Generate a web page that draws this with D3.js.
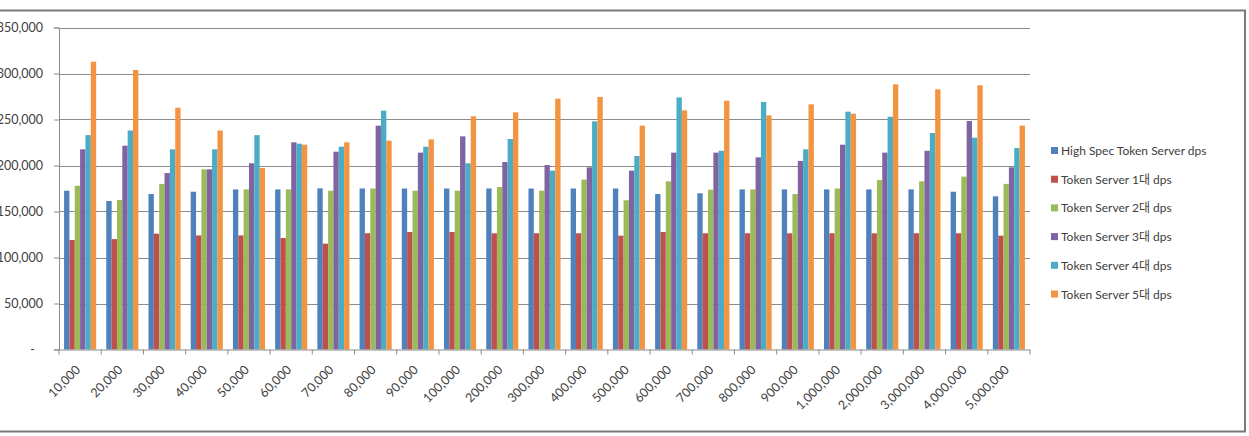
<!DOCTYPE html>
<html>
  <head>
    <meta charset="utf-8">
    <title>Token Server dps</title>
    <script src="https://d3js.org/d3.v7.min.js"></script>
    <style>
      body { margin: 0; background: #fff; }
      text { font-family: Lato, "Noto Sans CJK KR", sans-serif; }
    </style>
  </head>
  <body>
    <svg width="1249" height="436" id="mainsvg"></svg>
    <script>
      const categories = ['10,000', '20,000', '30,000', '40,000', '50,000', '60,000', '70,000', '80,000',
        '90,000', '100,000', '200,000', '300,000', '400,000', '500,000', '600,000', '700,000', '800,000',
        '900,000', '1,000,000', '2,000,000', '3,000,000', '4,000,000', '5,000,000'];

      const seriesNames = ['High Spec Token Server dps', 'Token Server 1대 dps', 'Token Server 2대 dps',
        'Token Server 3대 dps', 'Token Server 4대 dps', 'Token Server 5대 dps'];

      const highSpec = [172600, 161400, 169000, 171500, 174000, 174000, 175200, 175000, 175000, 175000, 175000, 175000,
        175000, 175000, 169000, 169800, 174000, 174000, 174000, 174000, 174000, 171500, 166500];
      const server1 = [119000, 120000, 125900, 124000, 124000, 121200, 115000, 126300, 127700, 127700, 126300, 126300,
        126300, 123700, 127700, 126300, 126300, 126300, 126300, 126300, 126300, 126300, 123700];
      const server2 = [178000, 162500, 180000, 195800, 174000, 174000, 172600, 175000, 172600, 172600, 176600, 172600,
        184600, 162200, 182800, 173700, 174000, 169000, 175000, 184200, 182800, 187900, 180000];
      const server3 = [217600, 221500, 191800, 195800, 202400, 225200, 215000, 243300, 214000, 231700, 203800, 200500,
        198000, 194400, 214000, 214000, 208900, 204900, 222600, 214000, 216000, 248400, 198000];
      const server4 = [233000, 238000, 217600, 217600, 233000, 223700, 220400, 259600, 220400, 202400, 228800, 194400,
        248000, 210300, 274000, 216000, 269000, 217600, 258500, 253000, 235300, 230200, 219000];
      const server5 = [312800, 303800, 262800, 238000, 197300, 222600, 225200, 227000, 228400, 253500, 257800, 272600,
        274500, 243300, 260000, 270400, 254500, 266500, 256300, 288200, 282800, 287200, 243300];

      const yTicks = [0, 50000, 100000, 150000, 200000, 250000, 300000, 350000];
      const colors = ['#4F81BD', '#C0504D', '#9BBB59', '#8064A2', '#4BACC6', '#F39443'];

      const allSeries = [highSpec, server1, server2, server3, server4, server5];

      const svg = d3.select('#mainsvg');

      // outer chart frame (left edge is cropped off in the original)
      svg.append('rect')
        .attr('x', -10).attr('y', 10.5)
        .attr('width', 1255).attr('height', 421)
        .attr('fill', '#fff').attr('stroke', '#7a7a7a').attr('stroke-width', 2);

      const plotLeft = 59, plotRight = 1030, plotTop = 27.5, plotBottom = 349.5;

      const xScale = d3.scaleBand()
        .domain(categories)
        .range([plotLeft, plotRight])
        .paddingInner(0.24).paddingOuter(0.12);

      const xOuter = d3.scaleBand().domain(categories).range([plotLeft, plotRight]);

      const xSub = d3.scaleBand()
        .domain(d3.range(allSeries.length))
        .range([0, xScale.bandwidth()]);

      const yScale = d3.scaleLinear()
        .domain([0, 350000])
        .range([plotBottom, plotTop]);

      // gridlines
      svg.append('g').selectAll('line').data(yTicks.slice(1)).join('line')
        .attr('x1', plotLeft).attr('x2', plotRight)
        .attr('y1', d => Math.round(yScale(d)) + 0.5).attr('y2', d => Math.round(yScale(d)) + 0.5)
        .attr('stroke', '#8c8c8c').attr('stroke-width', 1);

      // y axis
      const yAxis = d3.axisLeft(yScale)
        .tickValues(yTicks)
        .tickSize(5)
        .tickFormat(d => d === 0 ? '-' : d3.format(',')(d));
      const yg = svg.append('g')
        .attr('transform', `translate(${plotLeft},0)`)
        .call(yAxis);
      yg.select('.domain').attr('stroke', '#8c8c8c');
      yg.selectAll('.tick line').attr('stroke', '#8c8c8c');
      yg.selectAll('.tick text')
        .attr('font-size', 12.5).attr('fill', '#404040')
        .attr('x', -16);
      yg.selectAll('.tick text').filter(d => d === 0).attr('x', -24);

      // bars
      const groups = svg.append('g').selectAll('g').data(categories).join('g')
        .attr('transform', d => `translate(${xScale(d)},0)`);

      groups.selectAll('rect')
        .data((c, i) => allSeries.map((s, k) => ({ k, v: s[i] })))
        .join('rect')
        .attr('x', d => xSub(d.k))
        .attr('width', xSub.bandwidth())
        .attr('y', d => yScale(d.v))
        .attr('height', d => plotBottom - yScale(d.v))
        .attr('fill', d => colors[d.k]);

      // x axis
      const xg = svg.append('g').attr('transform', `translate(0,${plotBottom})`);
      xg.append('line')
        .attr('x1', plotLeft).attr('x2', plotRight)
        .attr('y1', 0.5).attr('y2', 0.5)
        .attr('stroke', '#8c8c8c');
      xg.selectAll('.tk').data(categories.concat(['end'])).join('line')
        .attr('class', 'tk')
        .attr('x1', (d, i) => i < categories.length ? xOuter(d) : plotRight)
        .attr('x2', (d, i) => i < categories.length ? xOuter(d) : plotRight)
        .attr('y1', 0).attr('y2', 5)
        .attr('stroke', '#8c8c8c');
      xg.selectAll('.lbl').data(categories).join('text')
        .attr('class', 'lbl')
        .attr('font-size', 12.5).attr('fill', '#404040')
        .attr('text-anchor', 'end')
        .attr('transform', d => `translate(${xOuter(d) + xOuter.bandwidth() / 2 + 1},${21}) rotate(-45)`)
        .text(d => d);

      // legend
      const legend = svg.append('g').attr('transform', 'translate(1051,151)');
      const items = legend.selectAll('g').data(seriesNames).join('g')
        .attr('transform', (d, i) => `translate(0,${i * 28.7})`);
      items.append('rect')
        .attr('x', 0).attr('y', -4).attr('width', 7).attr('height', 7)
        .attr('fill', (d, i) => colors[i]);
      items.append('text')
        .attr('x', 10).attr('y', 4)
        .attr('font-size', 12).attr('fill', '#404040')
        .text(d => d);
    </script>
  </body>
</html>
